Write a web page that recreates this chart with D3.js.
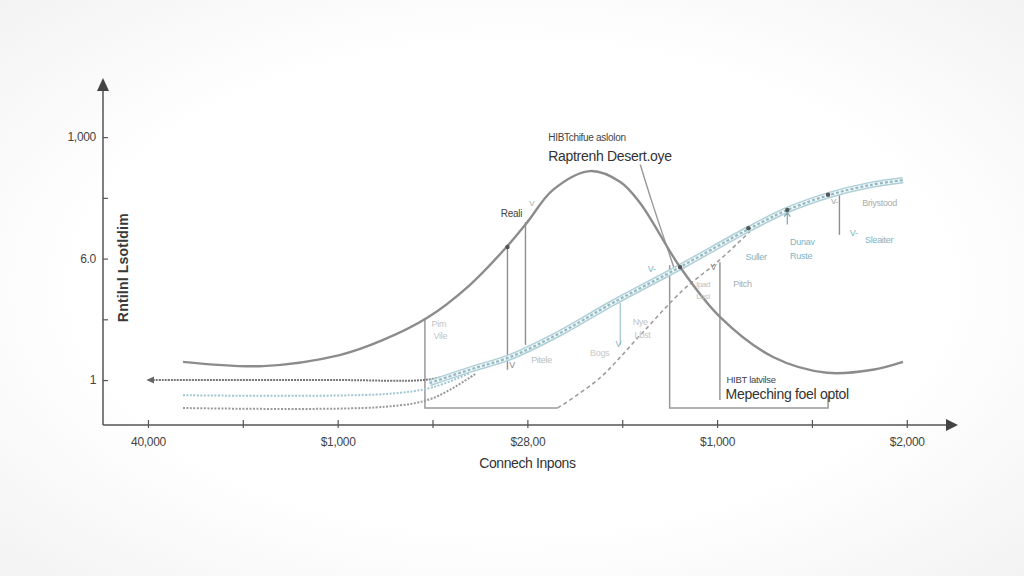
<!DOCTYPE html>
<html><head><meta charset="utf-8">
<script src="https://cdn.jsdelivr.net/npm/d3@7"></script>
<style>
html,body{margin:0;padding:0;background:#fdfdfd;}
svg{display:block;font-family:"Liberation Sans",Arial,sans-serif;}
</style></head>
<body>
<svg id="c" width="1024" height="576"></svg>
<script>
// ---- data ----
const xTicks = [0,1,2,3,4,5,6,7,8];
const xTickLabels = ["40,000","","$1,000","","$28,00","","$1,000","","$2,000"];
const yTicks = [0,1,2,3,4];
const yTickLabels = ["1","","6.0","","1,000"];
const xTitle = "Connech Inpons";
const yTitle = "Rntilnl Lsotldim";

const bellX = [0.37,1.21,2.02,2.48,2.94,3.39,3.78,4.00,4.27,4.66,4.98,5.19,5.61,6.03,6.59,7.16,7.64,7.96];
const bellY = [0.30,0.23,0.41,0.66,1.02,1.56,2.19,2.60,3.13,3.44,3.26,2.91,1.86,1.04,0.38,0.12,0.17,0.30];

const bandX = [2.97,3.39,3.82,4.34,4.90,5.61,6.35,6.74,7.19,7.61,7.96];
const bandY = [-0.05,0.17,0.38,0.77,1.27,1.86,2.50,2.80,3.05,3.21,3.29];

const arrowLineX = [3.2,2.9,2.0,0.0];
const arrowLineY = [0.08,0.0,0.0,0.0];

const blueDotX = [0.37,2.5,3.0,3.4];
const blueDotY = [-0.25,-0.23,-0.12,0.12];

const grayLowX = [0.37,2.5,3.0,3.45];
const grayLowY = [-0.46,-0.44,-0.30,0.10];

const riseX = [4.32,4.76,5.19,5.64,6.00,6.35];
const riseY = [-0.46,0.03,0.74,1.48,1.94,2.45];

// vertical guide lines [x, yTop, yBottom]
const guides = [[3.79,2.19,0.17],[3.98,2.60,0.58],[6.03,1.94,-0.33],[7.29,3.08,2.39]];
const blueGuides = [[4.98,1.27,0.58]];
// brackets: polylines
const bracket1X = [2.92,2.92,4.32]; const bracket1Y = [1.02,-0.46,-0.46];
const bracket2X = [5.50,5.50,7.17,7.17]; const bracket2Y = [1.89,-0.46,-0.46,-0.25];
const calloutX = [5.19,5.32,5.55]; const calloutY = [3.55,2.90,1.83];
const dotX = [3.79,5.61,6.33,6.74,7.17]; const dotY = [2.19,1.86,2.50,2.80,3.05];

// labels [text, x, y, size, color, weight]
const labels = [
  ["HIBTchifue aslolon",4.22,3.94,10,"#444",400],
  ["Raptrenh Desert.oye",4.22,3.61,14,"#333",400],
  ["Reali",3.72,2.68,10,"#444",400],
  ["HIBT latvilse",6.10,-0.05,9.5,"#444",400],
  ["Mepeching foel optol",6.09,-0.31,14,"#333",400],
  ["Pim",2.99,0.87,9,"#c4c4c4",400],
  ["Vile",3.01,0.67,9,"#c4c4c4",400],
  ["Pitele",4.04,0.28,9,"#bdbdbd",400],
  ["Bogs",4.66,0.40,9,"#c8c8c8",400],
  ["Nye",5.11,0.90,9,"#c4c4c4",400],
  ["Lbst",5.13,0.69,9,"#c4c4c4",400],
  ["lpad",5.78,1.53,8,"#c0c0c0",400],
  ["Losl",5.78,1.33,8,"#c0c0c0",400],
  ["Pitch",6.17,1.53,9,"#aaaaaa",400],
  ["Suller",6.30,1.97,9,"#7fb3c2",400],
  ["Dunav",6.77,2.22,9,"#7fb3c2",400],
  ["Ruste",6.77,1.99,9,"#7fb3c2",400],
  ["Briystood",7.53,2.87,9,"#aaaaaa",400],
  ["Sleaiter",7.56,2.25,9,"#7fb3c2",400],
  ["V-",5.27,1.78,9,"#7fb3c2",400],
  ["V",4.93,0.55,9,"#7fb3c2",400],
  ["V",3.81,0.20,9,"#888",400],
  ["V",5.93,1.82,9,"#888",400],
  ["V",4.02,2.86,8,"#aaa",400],
  ["V-",7.40,2.37,9,"#7fb3c2",400],
  ["V-",7.20,2.90,8,"#999",400]
];

// ---- scales ----
const svg = d3.select("#c");
const x = d3.scaleLinear().domain([-0.474, 8.54]).range([103, 958]);
const y = d3.scaleLinear().domain([-0.74, 4.94]).range([425, 80]);

const defs = svg.append("defs");
const rg = defs.append("radialGradient").attr("id","bg").attr("cx","50%").attr("cy","50%").attr("r","70%");
rg.append("stop").attr("offset","60%").attr("stop-color","#ffffff");
rg.append("stop").attr("offset","100%").attr("stop-color","#f3f3f3");
svg.append("rect").attr("width",1024).attr("height",576).attr("fill","url(#bg)");

defs.append("marker").attr("id","arrL").attr("viewBox","0 0 10 10").attr("refX",8).attr("refY",5)
  .attr("markerWidth",4).attr("markerHeight",4).attr("orient","auto")
  .append("path").attr("d","M10,5 L0,0.5 L0,9.5 Z").attr("fill","#666");

const line = (xs, ys, curve) => d3.line().x(d=>x(d[0])).y(d=>y(d[1])).curve(curve||d3.curveCatmullRom.alpha(0.5))(xs.map((v,i)=>[v,ys[i]]));
const poly = (xs, ys) => d3.line().x(d=>x(d[0])).y(d=>y(d[1]))(xs.map((v,i)=>[v,ys[i]]));

// ---- axes ----
const xAxisG = svg.append("g").attr("transform",`translate(0,${y(-0.74)})`)
  .call(d3.axisBottom(x).tickValues(xTicks).tickFormat((d,i)=>xTickLabels[i]).tickSize(0).tickPadding(12));
xAxisG.select(".domain").remove();
xAxisG.selectAll("text").attr("font-size",12).attr("fill","#444").attr("font-family","'Liberation Sans',Arial,sans-serif").attr("letter-spacing","-0.3");
xAxisG.selectAll(".tick").append("line").attr("y1",-5).attr("y2",3).attr("stroke","#555").attr("stroke-width",1.2);

const yAxisG = svg.append("g").attr("transform",`translate(${x(-0.474)},0)`)
  .call(d3.axisLeft(y).tickValues(yTicks).tickFormat((d,i)=>yTickLabels[i]).tickSize(0).tickPadding(7));
yAxisG.select(".domain").remove();
yAxisG.selectAll("text").attr("font-size",12).attr("fill","#444").attr("font-family","'Liberation Sans',Arial,sans-serif").attr("letter-spacing","-0.3");
yAxisG.selectAll(".tick").append("line").attr("x1",0).attr("x2",5).attr("stroke","#555").attr("stroke-width",1.2);

svg.append("line").attr("x1",x(-0.474)).attr("x2",x(8.54)-8).attr("y1",y(-0.74)).attr("y2",y(-0.74)).attr("stroke","#555").attr("stroke-width",1.5);
svg.append("line").attr("x1",x(-0.474)).attr("x2",x(-0.474)).attr("y1",y(-0.74)).attr("y2",y(4.94)+8).attr("stroke","#555").attr("stroke-width",1.5);
svg.append("path").attr("d",`M${x(8.54)},${y(-0.74)} l-12,-6 l0,12 Z`).attr("fill","#444");
svg.append("path").attr("d",`M${x(-0.474)},${y(4.94)-2} l-6,13 l12,0 Z`).attr("fill","#444");

svg.append("text").attr("x",x(4)).attr("y",468).attr("text-anchor","middle").attr("font-size",14).attr("fill","#333").attr("letter-spacing","-0.4").text(xTitle);
svg.append("text").attr("transform",`translate(128,${y(1.85)}) rotate(-90)`).attr("text-anchor","middle").attr("font-size",14).attr("font-weight",700).attr("fill","#3a3a3a").attr("letter-spacing","0.2").text(yTitle);

// ---- brackets / guides ----
const guideG = svg.append("g").attr("fill","none");
guideG.append("path").attr("d",poly(bracket1X,bracket1Y)).attr("stroke","#999").attr("stroke-width",1.5);
guideG.append("path").attr("d",poly(bracket2X,bracket2Y)).attr("stroke","#999").attr("stroke-width",1.5);
guides.forEach(g=>guideG.append("line").attr("x1",x(g[0])).attr("x2",x(g[0])).attr("y1",y(g[1])).attr("y2",y(g[2])).attr("stroke","#8f8f8f").attr("stroke-width",1.4));
blueGuides.forEach(g=>guideG.append("line").attr("x1",x(g[0])).attr("x2",x(g[0])).attr("y1",y(g[1])).attr("y2",y(g[2])).attr("stroke","#a9c9d2").attr("stroke-width",1.3));
guideG.append("path").attr("d",line(calloutX,calloutY)).attr("stroke","#999").attr("stroke-width",1.4);

// ---- lower lines ----
svg.append("path").attr("d",line(grayLowX,grayLowY)).attr("fill","none").attr("stroke","#9a9a9a").attr("stroke-width",2).attr("stroke-dasharray","2,1.5");
svg.append("path").attr("d",line(blueDotX,blueDotY)).attr("fill","none").attr("stroke","#9fc6d2").attr("stroke-width",2).attr("stroke-dasharray","2,1.5");
svg.append("path").attr("d",line(arrowLineX,arrowLineY)).attr("fill","none").attr("stroke","#777").attr("stroke-width",2).attr("stroke-dasharray","2,1").attr("marker-end","url(#arrL)");
svg.append("path").attr("d",line(riseX,riseY)).attr("fill","none").attr("stroke","#9a9a9a").attr("stroke-width",1.5).attr("stroke-dasharray","4,3");

// ---- band ----
const bandD = line(bandX,bandY);
svg.append("path").attr("d",bandD).attr("fill","none").attr("stroke","#aed0d9").attr("stroke-width",6.5);
svg.append("path").attr("d",bandD).attr("fill","none").attr("stroke","#f4f9fa").attr("stroke-width",3.5);
svg.append("path").attr("d",bandD).attr("fill","none").attr("stroke","#94b9c3").attr("stroke-width",2.2).attr("stroke-dasharray","3,2");

// ---- bell ----
svg.append("path").attr("d",line(bellX,bellY)).attr("fill","none").attr("stroke","#8c8c8c").attr("stroke-width",2.4);

// dots
svg.selectAll(".dot").data(dotX.map((v,i)=>[v,dotY[i]])).enter().append("circle")
  .attr("cx",d=>x(d[0])).attr("cy",d=>y(d[1])).attr("r",2.2).attr("fill","#555");

// small up arrow under band
svg.append("path").attr("d",`M${x(6.74)},${y(2.56)} l0,-12 M${x(6.74)-3},${y(2.56)-8} l3,-4 l3,4`).attr("stroke","#7fa5b0").attr("fill","none").attr("stroke-width",1.2);

// labels
svg.selectAll(".lbl").data(labels).enter().append("text")
  .attr("x",d=>x(d[1])).attr("y",d=>y(d[2])).attr("font-size",d=>d[3]).attr("fill",d=>d[4]).attr("font-weight",d=>d[5])
  .attr("letter-spacing","-0.3").text(d=>d[0]);
</script>
</body></html>
